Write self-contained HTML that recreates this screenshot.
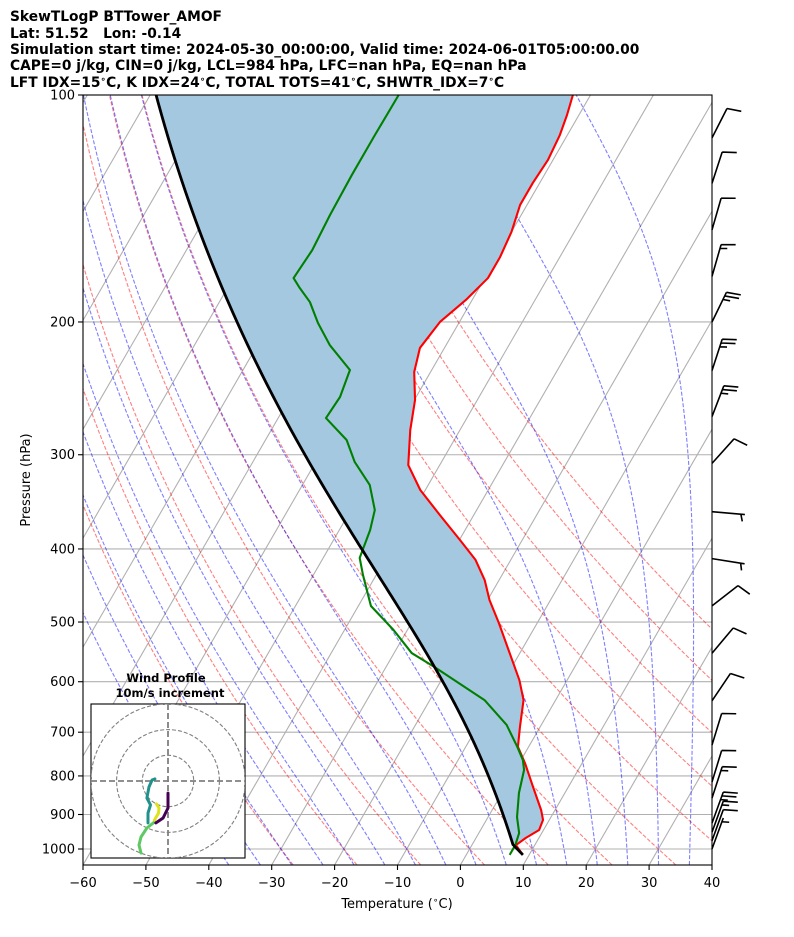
<!DOCTYPE html>
<html><head><meta charset="utf-8"><style>
html,body{margin:0;padding:0;background:#fff}
svg{display:block;font-family:"DejaVu Sans","Liberation Sans",sans-serif}
</style></head><body>
<svg id="chart" width="794" height="937" viewBox="0 0 794 937">
<defs><clipPath id="plotclip"><rect x="83" y="95" width="629" height="770"/></clipPath>
<clipPath id="hodoclip"><rect x="91" y="704" width="154" height="154"/></clipPath></defs>
<g font-weight="bold" font-size="13.8" fill="#000">
<text x="10" y="21">SkewTLogP BTTower_AMOF</text>
<text x="10" y="38" xml:space="preserve">Lat: 51.52   Lon: -0.14</text>
<text x="10" y="54">Simulation start time: 2024-05-30_00:00:00, Valid time: 2024-06-01T05:00:00.00</text>
<text x="10" y="70">CAPE=0 j/kg, CIN=0 j/kg, LCL=984 hPa, LFC=nan hPa, EQ=nan hPa</text>
<text x="10" y="87">LFT IDX=15<tspan font-size="9" dy="-5">∘</tspan><tspan dy="5">C, K IDX=24</tspan><tspan font-size="9" dy="-5">∘</tspan><tspan dy="5">C, TOTAL TOTS=41</tspan><tspan font-size="9" dy="-5">∘</tspan><tspan dy="5">C, SHWTR_IDX=7</tspan><tspan font-size="9" dy="-5">∘</tspan><tspan dy="5">C</tspan></text>
</g>
<g id="plot" clip-path="url(#plotclip)"></g>
<g id="axes"></g>
<g id="barbs"></g>
<g id="hodo"></g>
</svg>
<script>
// ---- data ----
const tempP = [100,106.3,113,121.9,130.8,139.9,151.9,164,174.9,187,200,216.5,233,253.8,278.2,309.6,334.1,360.6,389.2,413.6,439.8,467.5,501.5,597,634.6,689,732,769,827.6,888,915,943.6,967,988,1018];
const tempT = [-52.8,-51.9,-51.2,-50.8,-51.1,-51.1,-50,-49.5,-49.5,-51,-53.1,-53.9,-52.6,-49.9,-47.9,-45,-40.8,-35.4,-29.9,-25.6,-22.3,-19.7,-16.1,-7.6,-5.1,-3.2,-1.7,0.9,4.4,7.8,9,9.3,7.9,7,9];
const dewP = [100,113,127.6,144.2,160.6,174.9,180.3,188.2,200.6,214.6,231.6,251.5,268.2,286.8,306.7,329,355.1,377.5,411.1,433.2,476.1,512.3,549.7,573.6,634.6,684.7,732,762.1,785.6,842.9,907,952.4,988,1018];
const dewT = [-80.5,-80.6,-80.6,-80.4,-80,-80.4,-78.5,-75.6,-72.4,-68.5,-63,-62.1,-62.4,-57.1,-53.8,-49.3,-46.2,-45.1,-44.2,-42.1,-38,-32.2,-27.2,-22.3,-11.3,-5.5,-1.8,0.3,1.4,2.7,4.6,6.4,6.9,6.9];
const xTicks = [-60,-50,-40,-30,-20,-10,0,10,20,30,40];
const yTicks = [100,200,300,400,500,600,700,800,900,1000];
const dryT0 = [-30,-20,-10,0,10,20,30,40,50,60,70,80];
const moistT0 = [-40,-35,-30,-25,-20,-15,-10,-5,0,5,10,15,20,25,30,35];
const barbP = [114,131,151,174,200,232,267,308,357,412,476,550,636,728,815,856,924,950,975,1000];
const barbDir = [27,18,16,16,26,18,21,42,95,99,52,40,34,17,17,18,20,20,20,20];
const barbSpd = [10,10,10,15,25,25,25,10,5,5,10,10,10,10,10,15,25,15,10,5];
const hodoPurpleU=[0,0,-1.9,-4.7], hodoPurpleV=[-4.7,-10.5,-14.4,-16.3];
const hodoYellowU=[-4.5,-3.5,-3.7,-5.3], hodoYellowV=[-8.9,-10.5,-12.5,-15.2];
const hodoGreenU=[-5.3,-8.2,-10.5,-11.3,-10.5], hodoGreenV=[-16,-18.3,-21.8,-24.9,-28];
const hodoTealU=[-5.1,-6.2,-7.4,-8.2,-6.8,-7.8,-7.8], hodoTealV=[0.8,0.4,-2.3,-6.6,-9.3,-12.5,-16.3];

// ---- axes ----
const L=83,R=712,T=95,B=865,SK=0.5774;
function yPix(p){return 95+754*Math.log10(p/100);}
function xPix(t,p){return L+(t+60)*6.29+(B-yPix(p))*SK;}
const NS='http://www.w3.org/2000/svg';
function mk(tag,attrs,parent){const e=document.createElementNS(NS,tag);for(const k in attrs)e.setAttribute(k,attrs[k]);parent.appendChild(e);return e;}
const plot=document.getElementById('plot'), axes=document.getElementById('axes');
function pathFrom(ps,ts){return ps.map((p,i)=>(i?'L':'M')+xPix(ts[i],p).toFixed(2)+','+yPix(p).toFixed(2)).join('');}
function interpT(ps,ts,p){
  const lp=Math.log(p);
  for(let i=0;i<ps.length-1;i++){const a=Math.log(ps[i]),b=Math.log(ps[i+1]);
    if(lp>=a&&lp<=b){return ts[i]+(ts[i+1]-ts[i])*(lp-a)/(b-a);}}
  return lp<Math.log(ps[0])?ts[0]:ts[ts.length-1];
}
function dTdp(p,Tk){const Rd=287.04,Cp=1005.7,Lv=2.501e6,eps=0.622;
  const es=6.112*Math.exp(17.67*(Tk-273.15)/(Tk-29.65));const rs=eps*es/(p-es);
  return (1/p)*(Rd*Tk+Lv*rs)/(Cp+Lv*Lv*rs*eps/(Rd*Tk*Tk));}
function moistPath(t0C,p0,pEnd,step){const out=[];let p=p0,Tk=t0C+273.15;out.push([p,Tk-273.15]);
  const dir=pEnd<p0?-1:1;
  while(dir*(pEnd-p)>0){const h=dir*Math.min(step,Math.abs(pEnd-p));
    const k1=dTdp(p,Tk),k2=dTdp(p+h/2,Tk+h/2*k1),k3=dTdp(p+h/2,Tk+h/2*k2),k4=dTdp(p+h,Tk+h*k3);
    Tk+=h/6*(k1+2*k2+2*k3+k4);p+=h;out.push([p,Tk-273.15]);}
  return out;}

yTicks.forEach(p=>{const l=mk('line',{x1:L,x2:R,y1:yPix(p),y2:yPix(p),stroke:'#b0b0b0','stroke-width':1.1},plot);

});
for(let t=-160;t<=40;t+=10){const l=mk('line',{x1:xPix(t,1100),y1:yPix(1100),x2:xPix(t,95),y2:yPix(95),stroke:'#b0b0b0','stroke-width':1.1},plot);

}
const pGrid=[];for(let p=1050;p>=100;p-=10)pGrid.push(p);
dryT0.forEach(t0=>{const ts=pGrid.map(p=>(t0+273.15)*Math.pow(p/1000,0.2857)-273.15);
  const e=mk('path',{d:pathFrom(pGrid,ts),fill:'none',stroke:'#ff0000','stroke-opacity':0.5,'stroke-width':1.1,'stroke-dasharray':'4,1.8'},plot);
  
  });
moistT0.forEach(t0=>{const up=moistPath(t0,1000,100,5),dn=moistPath(t0,1000,1050,5);
  const pts=dn.reverse().concat(up.slice(1));
  const e=mk('path',{d:pathFrom(pts.map(a=>a[0]),pts.map(a=>a[1])),fill:'none',stroke:'#0000ff','stroke-opacity':0.5,'stroke-width':1.1,'stroke-dasharray':'4,1.8'},plot);
  
  });

const pSfc=tempP[tempP.length-1], tSfc=tempT[tempT.length-1], tdSfc=dewT[dewT.length-1];
const tLcl=tdSfc-(0.001296*tdSfc+0.1963)*(tSfc-tdSfc);
const pLcl=pSfc*Math.pow((tLcl+273.15)/(tSfc+273.15),1/0.2857);
const parcel=[];
for(let p=pSfc;p>pLcl;p-=2)parcel.push([p,(tSfc+273.15)*Math.pow(p/pSfc,0.2857)-273.15]);
moistPath(tLcl,pLcl,100,4).forEach(a=>parcel.push(a));
const envAt=parcel.map(a=>Math.max(a[1],interpT(tempP,tempT,a[0])));
let fd=parcel.map((a,i)=>(i?'L':'M')+xPix(a[1],a[0]).toFixed(2)+','+yPix(a[0]).toFixed(2)).join('');
for(let i=parcel.length-1;i>=0;i--)fd+='L'+xPix(envAt[i],parcel[i][0]).toFixed(2)+','+yPix(parcel[i][0]).toFixed(2);
const fill=mk('path',{d:fd+'Z',fill:'#a5c8e1',stroke:'none'},plot);


const tl=mk('path',{d:pathFrom(tempP,tempT),fill:'none',stroke:'#ff0000','stroke-width':2.1,'stroke-linejoin':'round'},plot);


const dl=mk('path',{d:pathFrom(dewP,dewT),fill:'none',stroke:'#008000','stroke-width':2.1,'stroke-linejoin':'round'},plot);


const pl=mk('path',{d:pathFrom(parcel.map(a=>a[0]),parcel.map(a=>a[1])),fill:'none',stroke:'#000','stroke-width':2.8},plot);



const fr=mk('rect',{x:L,y:T,width:R-L,height:B-T,fill:'none',stroke:'#000','stroke-width':1.1},axes);


xTicks.forEach(t=>{const x=L+(t+60)*6.29;
  mk('line',{x1:x,x2:x,y1:B,y2:B+5,stroke:'#000','stroke-width':1.1},axes);
  const tx=mk('text',{x:x,y:B+22,'text-anchor':'middle','font-size':13},axes);tx.textContent=t<0?'\u2212'+(-t):String(t);
  
  });
yTicks.forEach(p=>{const y=yPix(p);
  mk('line',{x1:L-5,x2:L,y1:y,y2:y,stroke:'#000','stroke-width':1.1},axes);
  const tx=mk('text',{x:L-8,y:y+4.5,'text-anchor':'end','font-size':13},axes);tx.textContent=String(p);
  
  });
const xl=mk('text',{x:397,y:908,'text-anchor':'middle','font-size':13},axes);xl.textContent='Temperature (';
const xs=mk('tspan',{'font-size':9,dy:-5},xl);xs.textContent='\u2218';const xs2=mk('tspan',{dy:5},xl);xs2.textContent='C)';


const yl=mk('text',{x:30,y:480,'text-anchor':'middle','font-size':13,transform:'rotate(-90 30 480)'},axes);yl.textContent='Pressure (hPa)';



const bg=document.getElementById('barbs');
barbP.forEach((p,i)=>{const y0=yPix(p),x0=R;const a=barbDir[i]*Math.PI/180;
  const dx=Math.sin(a),dy=-Math.cos(a),len=33;const px=-dy,py=dx;
  const tx=x0+dx*len,ty=y0+dy*len;let d=`M${x0},${y0}L${tx},${ty}`;
  let s=barbSpd[i],pos=0;
  while(s>=10){const bx=tx-dx*pos,by=ty-dy*pos;d+=`M${bx},${by}L${bx+px*14+dx*4},${by+py*14+dy*4}`;s-=10;pos+=4;}
  if(s>=5){if(pos===0)pos=4;const bx=tx-dx*pos,by=ty-dy*pos;d+=`M${bx},${by}L${bx+px*7+dx*2},${by+py*7+dy*2}`;}
  const e=mk('path',{d:d,stroke:'#000','stroke-width':1.6,fill:'none'},bg);
  
  });

const hg=document.getElementById('hodo');
const hbg=mk('rect',{x:91,y:704,width:154,height:154,fill:'#fff',stroke:'#000','stroke-width':1.1},hg);


const hc=mk('g',{'clip-path':'url(#hodoclip)'},hg);
const cx=168,cy=781,sc=2.57;
[10,20,30].forEach(r=>{const c=mk('circle',{cx:cx,cy:cy,r:r*sc,fill:'none',stroke:'#808080','stroke-width':1.1,'stroke-dasharray':'4,2'},hc);
  
  });
mk('line',{x1:91,x2:245,y1:cy,y2:cy,stroke:'#808080','stroke-width':1.8,'stroke-dasharray':'6,3'},hc);
mk('line',{x1:cx,x2:cx,y1:704,y2:858,stroke:'#808080','stroke-width':1.8,'stroke-dasharray':'6,3'},hc);
[[hodoTealU,hodoTealV,'#21918c'],[hodoGreenU,hodoGreenV,'#5ec962'],[hodoPurpleU,hodoPurpleV,'#440154'],[hodoYellowU,hodoYellowV,'#dde318']].forEach(s=>{
  const d=s[0].map((u,i)=>(i?'L':'M')+(cx+u*sc).toFixed(1)+','+(cy-s[1][i]*sc).toFixed(1)).join('');
  const e=mk('path',{d:d,fill:'none',stroke:s[2],'stroke-width':3,'stroke-linecap':'round','stroke-linejoin':'round'},hc);
  
  });
const h1=mk('text',{x:166,y:682,'text-anchor':'middle','font-size':11.5,'font-weight':'bold'},hg);h1.textContent='Wind Profile';


const h2=mk('text',{x:170,y:697,'text-anchor':'middle','font-size':11.5,'font-weight':'bold'},hg);h2.textContent='10m/s increment';


</script>
</body></html>
